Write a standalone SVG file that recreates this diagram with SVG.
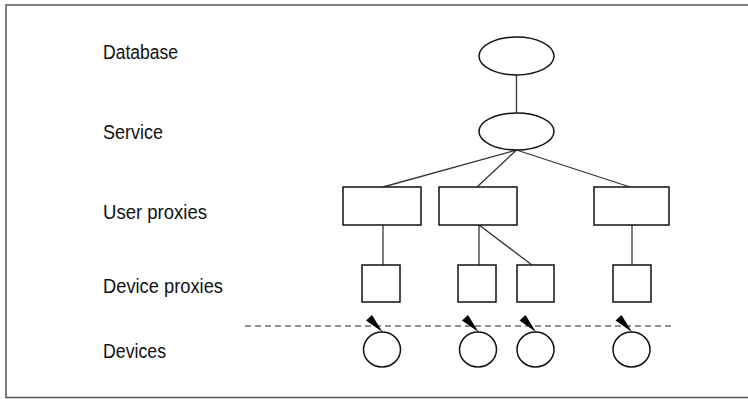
<svg xmlns="http://www.w3.org/2000/svg" width="748" height="399" viewBox="0 0 748 399">
  <style>
    .label { font-family: "Liberation Sans", Arial, sans-serif; font-size: 20px; fill: #111; }
    .node { fill: #fff; stroke: #111; stroke-width: 1.5; }
    .link { stroke: #333; stroke-width: 1.3; fill: none; }
    .sep { stroke: #222; stroke-width: 1.2; stroke-dasharray: 6 4; fill: none; }
  </style>
  <defs>
    <!-- device: circle with a small antenna wedge on top -->
    <g id="device-shape">
      <ellipse class="node" cx="0" cy="0" rx="18.5" ry="17.5"/>
      <polygon points="-16,-29 -10,-34.5 0.5,-17.5" fill="#000"/>
    </g>
  </defs>

  <!-- frame -->
  <rect x="6" y="5" width="750" height="392.5" fill="#fff" stroke="#555" stroke-width="1.5"/>

  <!-- level labels -->
  <g id="labels">
    <text class="label" x="103" y="59" textLength="75" lengthAdjust="spacingAndGlyphs">Database</text>
    <text class="label" x="103" y="139" textLength="60" lengthAdjust="spacingAndGlyphs">Service</text>
    <text class="label" x="103" y="219" textLength="104" lengthAdjust="spacingAndGlyphs">User proxies</text>
    <text class="label" x="103" y="293" textLength="120" lengthAdjust="spacingAndGlyphs">Device proxies</text>
    <text class="label" x="103" y="358" textLength="63" lengthAdjust="spacingAndGlyphs">Devices</text>
  </g>

  <!-- connectors -->
  <g id="connectors">
    <line class="link" x1="516.5" y1="75" x2="516.5" y2="113"/>
    <line class="link" x1="516.5" y1="150" x2="383" y2="187"/>
    <line class="link" x1="516.5" y1="150" x2="477" y2="187"/>
    <line class="link" x1="516.5" y1="150" x2="630" y2="187"/>
    <line class="link" x1="383" y1="225" x2="383" y2="265"/>
    <line class="link" x1="479" y1="225" x2="479" y2="265"/>
    <line class="link" x1="479" y1="225" x2="532" y2="265"/>
    <line class="link" x1="632" y1="225" x2="632" y2="265"/>
    <line class="sep" x1="245" y1="326" x2="673" y2="326"/>
  </g>

  <!-- database and service -->
  <g id="database"><ellipse class="node" cx="516.5" cy="56" rx="37.5" ry="19"/></g>
  <g id="service"><ellipse class="node" cx="516.5" cy="131.5" rx="37.5" ry="18.5"/></g>

  <!-- user proxies -->
  <g id="user-proxy-1"><rect class="node" x="343" y="187" width="78" height="38"/></g>
  <g id="user-proxy-2"><rect class="node" x="439" y="187" width="78" height="38"/></g>
  <g id="user-proxy-3"><rect class="node" x="594" y="187" width="75" height="38"/></g>

  <!-- device proxies -->
  <g id="device-proxy-1"><rect class="node" x="362" y="265" width="38" height="37"/></g>
  <g id="device-proxy-2"><rect class="node" x="458" y="265" width="38" height="37"/></g>
  <g id="device-proxy-3"><rect class="node" x="517" y="265" width="37" height="37"/></g>
  <g id="device-proxy-4"><rect class="node" x="613" y="265" width="38" height="37"/></g>

  <!-- devices -->
  <g id="device-1"><use href="#device-shape" transform="translate(382,349.5)"/></g>
  <g id="device-2"><use href="#device-shape" transform="translate(478,349.5)"/></g>
  <g id="device-3"><use href="#device-shape" transform="translate(535.5,349.5)"/></g>
  <g id="device-4"><use href="#device-shape" transform="translate(631.5,349.5)"/></g>
</svg>
